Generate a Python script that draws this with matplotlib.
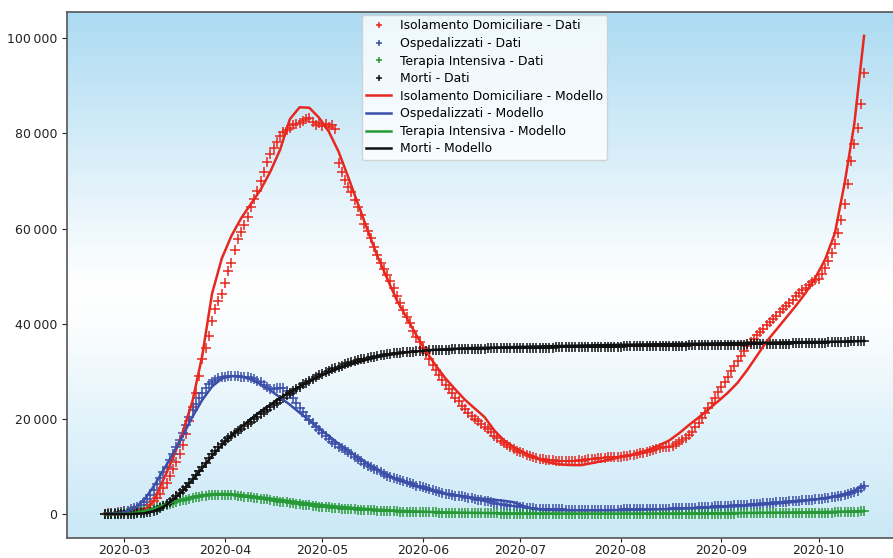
import numpy as np
import matplotlib
matplotlib.use('Agg')
import matplotlib.pyplot as plt
import matplotlib.dates as mdates
from matplotlib.colors import LinearSegmentedColormap
from matplotlib.ticker import FuncFormatter

# --- dati giornalieri dal 2020-02-24 al 2020-10-15 ---
start = np.datetime64('2020-02-24')
n_days = 235
dates = start + np.arange(n_days)

isolamento_dati = [
    90, 160, 220, 280, 350, 450, 550, 650, 750, 850, 950, 1000,
    1100, 1300, 1900, 2700, 3300, 4200, 5400, 6600, 8000,
    9500, 11000, 12600, 14500, 16800, 19500, 22500, 25500, 29000, 32500,
    35000, 37500, 40500, 43000, 44800, 46200, 48500, 51000, 52800, 55500,
    57800, 59300, 60800, 62500, 64500, 66300, 67900, 70000, 72000, 74000,
    75700, 77000, 78300, 79400, 80200, 80700, 81200, 81700, 82000, 82300,
    82600, 83000, 83200, 82500, 81800, 82200, 81500, 81900, 81300, 81700,
    81000, 73800, 72000, 70200, 68800, 67600, 66000, 64600, 62800, 61000,
    59500, 58000, 56200, 54400, 52700, 51500, 50300, 49000, 47600, 45800,
    44300, 42800, 41500, 40200, 38500, 37300, 36200, 35000, 33800, 32600,
    31400, 30300, 29200, 28200, 27200, 26300, 25400, 24500, 23700, 22800,
    22100, 21300, 20700, 20000, 19600, 19000, 18400, 17800, 17200, 16500,
    15900, 15400, 14900, 14500, 14100, 13700, 13300, 13000, 12800, 12500,
    12300, 12100, 11800, 11600, 11500, 11400, 11300, 11300, 11200, 11200,
    11100, 11100, 11200, 11100, 11200, 11300, 11200, 11400, 11500, 11500,
    11600, 11700, 11700, 11800, 11900, 11900, 12000, 12000, 12100, 12200,
    12300, 12400, 12500, 12600, 12800, 12900, 13000, 13200, 13400, 13600,
    13800, 14000, 14100, 14200, 14400, 14700, 15100, 15500, 16000, 16600,
    17300, 18200, 19200, 20200, 21300, 22300, 23400, 24500, 25600, 26800,
    27800, 28900, 30000, 31100, 32200, 33300, 34300, 35300, 36100, 36900,
    37600, 38300, 39000, 39700, 40300, 41000, 41700, 42400, 43100, 43800,
    44400, 45100, 45800, 46400, 47000, 47600, 48200, 48700, 49100, 49500,
    50500, 51800, 53200, 54800, 56800, 59000, 61800, 65100, 69300, 74200,
    77700, 81200, 86100, 92700,
]

ospedalizzati_dati = [
    100, 110, 150, 160, 250, 400, 640, 740, 1000, 1300, 1550,
    1950, 2450, 3150, 4000, 5100, 6300, 7500, 8800, 10000, 11300,
    12700, 14100, 15500, 17000, 18700, 20400, 21800, 23200, 24500, 25500,
    26500, 27300, 27800, 28200, 28500, 28800, 28900, 29000, 29100, 29100,
    29000, 28900, 28800, 28800, 28500, 28300, 28000, 27700, 27200, 26800,
    26300, 26200, 26500, 26600, 26400, 25800, 25200, 24300, 23300, 22300,
    21500, 20600, 19800, 19100, 18400, 17700, 17100, 16500, 15800, 15200,
    14700, 14200, 13800, 13400, 13000, 12600, 12100, 11600, 11100, 10600,
    10200, 9800, 9500, 9200, 8900, 8500, 8100, 7800, 7500, 7300,
    7100, 6900, 6700, 6500, 6300, 6000, 5800, 5600, 5400, 5200,
    5000, 4800, 4600, 4500, 4300, 4200, 4000, 3900, 3800, 3700,
    3500, 3400, 3300, 3100, 3000, 2900, 2800, 2700, 2500, 2400,
    2200, 2100, 2000, 1900, 1800, 1700, 1600, 1500, 1400, 1300,
    1250, 1200, 1150, 1100, 1100, 1050, 1050, 1000, 1000, 1000,
    980, 960, 950, 940, 930, 920, 910, 900, 900, 900,
    900, 900, 900, 910, 920, 930, 940, 950, 960, 970,
    980, 990, 1000, 1010, 1020, 1030, 1040, 1050, 1060, 1080,
    1100, 1120, 1140, 1160, 1180, 1200, 1230, 1260, 1290, 1320,
    1350, 1380, 1410, 1440, 1480, 1520, 1560, 1600, 1640, 1680,
    1720, 1760, 1800, 1840, 1880, 1920, 1960, 2000, 2050, 2100,
    2150, 2200, 2250, 2300, 2350, 2400, 2450, 2500, 2550, 2600,
    2650, 2700, 2750, 2800, 2860, 2920, 2980, 3040, 3100, 3170,
    3240, 3320, 3400, 3490, 3590, 3700, 3830, 3980, 4150, 4350,
    4600, 4950, 5400, 5900,
]

terapia_dati = [
    30, 35, 55, 65, 105, 140, 165, 230, 290, 350, 460,
    570, 730, 880, 1030, 1150, 1330, 1520, 1670, 1850, 2060,
    2260, 2500, 2650, 2860, 3010, 3200, 3400, 3490, 3610, 3730,
    3860, 3980, 4020, 4020, 4040, 4060, 4070, 4060, 4060, 3990,
    3900, 3800, 3690, 3600, 3500, 3380, 3340, 3260, 3180, 3080,
    2940, 2810, 2730, 2640, 2570, 2470, 2380, 2270, 2170, 2100,
    2010, 1950, 1860, 1800, 1690, 1580, 1540, 1500, 1430, 1330,
    1310, 1240, 1170, 1130, 1030, 1030, 990, 950, 890, 860,
    810, 780, 760, 720, 680, 650, 610, 590, 570, 550,
    540, 520, 500, 490, 470, 450, 430, 410, 390, 370,
    350, 340, 320, 300, 290, 270, 260, 250, 240, 230,
    220, 210, 200, 190, 180, 170, 160, 150, 140, 130,
    125, 120, 115, 110, 105, 100, 95, 90, 87, 85,
    82, 80, 78, 75, 73, 71, 70, 68, 66, 65,
    64, 63, 62, 60, 58, 56, 54, 52, 50, 49,
    48, 47, 46, 45, 44, 43, 42, 41, 41, 42,
    42, 43, 44, 45, 46, 47, 48, 50, 52, 54,
    56, 58, 60, 62, 64, 66, 68, 70, 72, 75,
    78, 80, 83, 86, 88, 90, 92, 94, 96, 100,
    105, 110, 115, 120, 125, 130, 135, 140, 145, 150,
    160, 165, 170, 175, 180, 185, 190, 195, 200, 210,
    215, 220, 230, 235, 240, 250, 260, 270, 280, 290,
    300, 310, 320, 330, 340, 360, 380, 400, 420, 450,
    480, 520, 580, 640,
]

morti_dati = [
    10, 12, 15, 20, 25, 30, 40, 55, 80, 110, 150,
    200, 260, 350, 500, 700, 950, 1250, 1600, 2050, 2550,
    3100, 3700, 4350, 5000, 5700, 6500, 7350, 8200, 9050, 9950,
    10800, 11700, 12550, 13350, 14050, 14700, 15300, 15900, 16450, 16950,
    17450, 17950, 18450, 18950, 19450, 19950, 20450, 20950, 21450, 21950,
    22450, 22950, 23450, 23950, 24450, 24950, 25450, 25900, 26350, 26800,
    27250, 27650, 28050, 28450, 28800, 29150, 29500, 29800, 30100, 30400,
    30700, 30950, 31200, 31450, 31700, 31900, 32100, 32300, 32500, 32650,
    32800, 32950, 33100, 33250, 33400, 33500, 33600, 33700, 33800, 33900,
    33950, 34000, 34050, 34100, 34150, 34200, 34250, 34300, 34350, 34400,
    34430, 34460, 34490, 34520, 34550, 34580, 34600, 34620, 34640, 34660,
    34680, 34700, 34720, 34740, 34760, 34780, 34800, 34810, 34820, 34830,
    34840, 34850, 34860, 34870, 34880, 34890, 34900, 34910, 34920, 34930,
    34940, 34950, 34960, 34970, 34980, 34990, 35000, 35010, 35020, 35030,
    35040, 35050, 35060, 35070, 35080, 35090, 35100, 35110, 35120, 35130,
    35140, 35150, 35160, 35170, 35180, 35190, 35200, 35210, 35220, 35230,
    35240, 35250, 35260, 35270, 35280, 35290, 35300, 35310, 35320, 35330,
    35340, 35350, 35360, 35370, 35380, 35390, 35400, 35410, 35420, 35440,
    35460, 35480, 35500, 35510, 35520, 35530, 35540, 35550, 35560, 35570,
    35580, 35590, 35600, 35610, 35620, 35630, 35640, 35650, 35660, 35670,
    35680, 35690, 35700, 35710, 35720, 35740, 35760, 35780, 35800, 35820,
    35840, 35860, 35880, 35900, 35920, 35940, 35960, 35980, 36000, 36020,
    36040, 36060, 36080, 36100, 36130, 36160, 36190, 36220, 36250, 36280,
    36320, 36360, 36410, 36470,
]

# --- modello (un valore ogni 3 giorni) ---
model_dates = start + np.arange(0, n_days, 3)

isolamento_modello = [
    0, 10, 40, 150,
    500, 2800, 7200, 11800, 17300,
    23800, 33300, 46300, 53700, 58500,
    62200, 65200, 68200, 72000, 76600,
    83000, 85500, 85400, 83300, 80400,
    76200, 70800, 65200, 59600, 54200,
    49500, 44900, 41300, 37600, 34200,
    31200, 28500, 26200, 24000, 22200,
    20400, 17600, 15500, 14100, 13000,
    12000, 11200, 10700, 10400, 10300,
    10300, 10700, 11100, 11500, 12000,
    12400, 13000, 13600, 14500, 15500,
    17000, 18700, 20300, 22000, 23700,
    25500, 27600, 30300, 33300, 36300,
    38800, 41300, 43800, 46500, 49700,
    53500, 59000, 69500, 82000, 100500,
]

ospedalizzati_modello = [
    0, 50, 300, 1200,
    2900, 5800, 9200, 12700, 16500,
    20500, 24000, 26800, 28500, 29000,
    28900, 28300, 27300, 26000, 24500,
    23000, 21300, 19700, 18000, 16400,
    14800, 13300, 11900, 10600, 9400,
    8300, 7300, 6500, 5800, 5200,
    4700, 4300, 4000, 3700, 3400,
    3200, 3000, 2800, 2500, 1700,
    1100, 900, 850, 820, 800,
    800, 800, 810, 830, 850,
    880, 920, 960, 1000, 1060,
    1120, 1200, 1280, 1370, 1460,
    1560, 1670, 1790, 1920, 2060,
    2220, 2400, 2600, 2820, 3080,
    3380, 3750, 4250, 4950, 6000,
]

terapia_modello = [
    0, 10, 60, 220,
    600, 1150, 1850, 2550, 3150,
    3650, 4000, 4200, 4250, 4180,
    4000, 3780, 3530, 3270, 3000,
    2730, 2470, 2220, 1980, 1760,
    1560, 1380, 1220, 1070, 940,
    820, 720, 630, 550, 480,
    420, 370, 330, 290, 260,
    230, 200, 180, 160, 150,
    140, 130, 120, 115, 110,
    105, 100, 100, 100, 100,
    105, 110, 115, 120, 130,
    140, 150, 160, 175, 190,
    205, 220, 240, 260, 280,
    300, 325, 350, 380, 410,
    440, 480, 530, 590, 660,
]

morti_modello = [
    0, 0, 10, 50,
    150, 600, 1500, 3000, 4900,
    7200, 9700, 12200, 14500, 16500,
    18300, 20000, 21600, 23000, 24400,
    25600, 26800, 27900, 28900, 29800,
    30600, 31300, 31900, 32500, 33000,
    33400, 33700, 34000, 34200, 34400,
    34550, 34650, 34750, 34850, 34900,
    34950, 35000, 35050, 35100, 35150,
    35200, 35250, 35300, 35340, 35380,
    35420, 35460, 35500, 35540, 35580,
    35610, 35640, 35670, 35700, 35730,
    35760, 35790, 35820, 35850, 35880,
    35910, 35940, 35970, 36000, 36030,
    36060, 36090, 36120, 36150, 36180,
    36210, 36240, 36280, 36320, 36380,
]

c_red = '#e8281e'
c_blue = '#3c4fa8'
c_green = '#279a37'
c_black = '#111111'

fig = plt.figure(figsize=(8.93, 5.58), dpi=100)
fig.patch.set_facecolor('white')
# l'asse continua oltre il bordo destro dell'immagine (immagine ritagliata)
pos = [67 / 893, 20 / 558, 835 / 893, 526 / 558]

# sfondo sfumato azzurro-bianco-azzurro su un asse separato
ax_bg = fig.add_axes(pos, zorder=0)
cmap = LinearSegmentedColormap.from_list('sfondo', [
    (0.0, '#cbe8f7'), (0.22, '#e2f3fb'), (0.40, '#fbfdfe'),
    (0.48, '#ffffff'), (0.66, '#e4f3fb'), (1.0, '#acdbf2')])
grad = np.linspace(0, 1, 256).reshape(-1, 1)
ax_bg.imshow(grad, extent=[0, 1, 0, 1], aspect='auto', cmap=cmap,
             origin='lower')
ax_bg.set_axis_off()

ax = fig.add_axes(pos, zorder=1)
ax.set_facecolor('none')

ms = 6.5
mw = 1.1
ax.plot(dates, isolamento_dati, '+', color=c_red, ms=ms, mew=mw,
        label='Isolamento Domiciliare - Dati')
ax.plot(dates, ospedalizzati_dati, '+', color=c_blue, ms=ms, mew=mw,
        label='Ospedalizzati - Dati')
ax.plot(dates, terapia_dati, '+', color=c_green, ms=ms, mew=mw,
        label='Terapia Intensiva - Dati')
ax.plot(dates, morti_dati, '+', color=c_black, ms=ms, mew=mw,
        label='Morti - Dati')
ax.plot(model_dates, isolamento_modello, '-', color=c_red, lw=1.8,
        label='Isolamento Domiciliare - Modello')
ax.plot(model_dates, ospedalizzati_modello, '-', color=c_blue, lw=1.8,
        label='Ospedalizzati - Modello')
ax.plot(model_dates, terapia_modello, '-', color=c_green, lw=1.8,
        label='Terapia Intensiva - Modello')
ax.plot(model_dates, morti_modello, '-', color=c_black, lw=1.8,
        label='Morti - Modello')

ax.set_ylim(-5025, 105525)
ax.margins(x=0.05)

ax.xaxis.set_major_locator(mdates.MonthLocator())
ax.xaxis.set_major_formatter(mdates.DateFormatter('%Y-%m'))
ax.yaxis.set_major_formatter(
    FuncFormatter(lambda v, p: f'{int(v):,}'.replace(',', '\u2009')))
ax.tick_params(labelsize=9, colors='#222222')
ax.tick_params(axis='x', length=3, pad=1)
for s in ax.spines.values():
    s.set_color('#555555')
    s.set_linewidth(1.2)

leg = ax.legend(loc='upper center', fontsize=8.9, numpoints=1,
                borderaxespad=0.25, handlelength=2.0, labelspacing=0.37,
                borderpad=0.35, handletextpad=0.7, markerscale=0.7)

fig.savefig('out.png', dpi=100)
